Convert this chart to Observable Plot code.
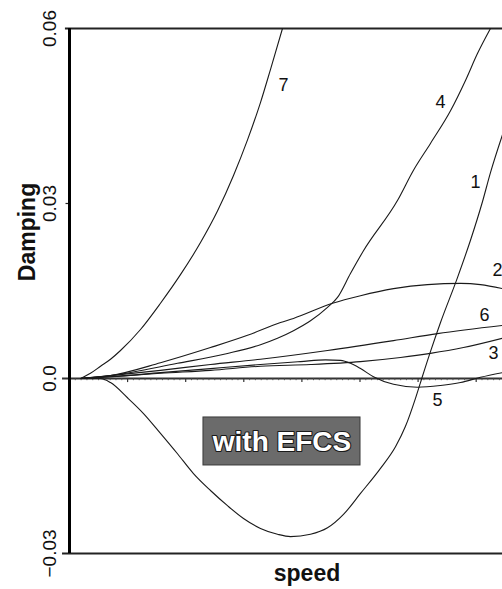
<!DOCTYPE html>
<html>
<head>
<meta charset="utf-8">
<script src="https://cdn.jsdelivr.net/npm/d3@7"></script>
<script src="https://cdn.jsdelivr.net/npm/@observablehq/plot@0.6"></script>
<style>
  html, body { margin: 0; padding: 0; background: #fff; }
  #chart svg { display: block; }
</style>
</head>
<body>
<div id="chart"></div>
<script>
// ---- Data (speed in arbitrary units, damping) ----
const curve1 = [[1.89,0],[5.34,0],[7.06,-0.0007],[9.98,-0.0033],[12.74,-0.0060],[15.66,-0.0094],[18.59,-0.0129],[21.34,-0.0163],[24.27,-0.0192],[27.19,-0.0218],[29.95,-0.0240],[32.87,-0.0257],[35.80,-0.0267],[38.04,-0.0271],[41.48,-0.0267],[44.41,-0.0256],[47.16,-0.0233],[50.09,-0.0197],[53.53,-0.0154],[56.11,-0.0117],[57.83,-0.0082],[59.55,-0.0034],[60.41,-0.0007],[62.13,0.0046],[63.86,0.0096],[66.78,0.0173],[69.02,0.0237],[71.08,0.0303],[72.46,0.0353],[74.53,0.0418]];
const curve2 = [[1.89,0],[7.06,0.0005],[15.66,0.0027],[24.27,0.0053],[30.64,0.0074],[36.32,0.0096],[38.55,0.0103],[45.27,0.0129],[50.09,0.0142],[55.77,0.0154],[61.62,0.0161],[67.30,0.0163],[70.74,0.0161],[74.53,0.0154]];
const curve3 = [[1.89,0],[7.06,0.0003],[15.66,0.0009],[24.27,0.0014],[32.87,0.0021],[41.48,0.0024],[50.09,0.0029],[56.97,0.0036],[62.13,0.0043],[67.81,0.0053],[74.53,0.0069]];
const curve4 = [[1.89,0],[7.06,0.0005],[18.59,0.0026],[27.19,0.0043],[32.87,0.0058],[35.80,0.0069],[38.55,0.0082],[41.48,0.0099],[44.41,0.0122],[46.13,0.0139],[48.36,0.0180],[50.60,0.0219],[56.45,0.0305],[59.21,0.0357],[62.13,0.0403],[65.58,0.0459],[68.16,0.0511],[70.22,0.0557],[72.46,0.0600]];
const curve5 = [[1.89,0],[7.06,0.0003],[15.66,0.0010],[24.27,0.0017],[32.87,0.0024],[39.76,0.0029],[44.06,0.0032],[46.64,0.0031],[48.36,0.0026],[50.09,0.0017],[52.32,0.0003],[55.77,-0.0010],[59.90,-0.0015],[63.86,-0.0012],[67.30,-0.0007],[70.74,0.0002],[74.53,0.0010]];
const curve6 = [[1.89,0],[7.06,0.0005],[15.66,0.0014],[24.27,0.0024],[32.87,0.0033],[44.41,0.0048],[55.77,0.0065],[63.34,0.0077],[74.53,0.0091]];
const curve7 = [[1.89,0],[3.61,0.0009],[5.34,0.0021],[7.06,0.0033],[8.78,0.0048],[12.22,0.0084],[15.66,0.0129],[19.10,0.0178],[22.55,0.0233],[25.47,0.0287],[28.23,0.0348],[30.64,0.0409],[32.87,0.0473],[34.60,0.0530],[36.66,0.0600]];

const curveNames = ["1","2","3","4","5","6","7"];
const curveData  = [curve1, curve2, curve3, curve4, curve5, curve6, curve7];

// curve label positions (data units)
const labelText = ["7","4","1","2","6","3","5"];
const labelX    = [36.83, 63.86, 69.88, 73.67, 71.43, 72.98, 63.34];
const labelY    = [0.0502, 0.0473, 0.0336, 0.0185, 0.0108, 0.0043, -0.0038];

// y axis ticks
const yTickValues = [-0.03, 0, 0.03, 0.06];
const yTickLabels = ["\u22120.03", "0.0", "0.03", "0.06"];

const xDomain = [0, 74.53];
const yDomain = [-0.03, 0.06];

// ---- Build tables ----
const lines = curveData.flatMap((c, i) => c.map(([x, y]) => ({name: curveNames[i], x, y})));
const labels = labelText.map((t, i) => ({t, x: labelX[i], y: labelY[i]}));
const yTicks = yTickValues.map((v, i) => ({v, label: yTickLabels[i]}));
const minorTicks = d3.range(1, 75, 1).filter(d => d % 10 !== 0);
const majorTicks = d3.range(10, 75, 10);

const font = "'Liberation Sans', Arial, Helvetica, sans-serif";

const chart = Plot.plot({
  width: 502,
  height: 589,
  marginLeft: 69,
  marginRight: 0,
  marginTop: 28,
  marginBottom: 36,
  style: {fontFamily: font, background: "#fff", overflow: "visible"},
  x: {domain: xDomain, axis: null},
  y: {domain: yDomain, axis: null},
  marks: [
    // annotation box
    Plot.rect([0], {x1: 23.06, x2: 50.09, y1: -0.00668, y2: -0.01491, fill: "#6b6b6b", stroke: "#3a3a3a", strokeWidth: 1}),
    Plot.text(["with EFCS"], {x: 36.57, y: -0.0108, text: d => d, fill: "#fff", stroke: "#1a1a1a", strokeWidth: 2.2, fontSize: 28, fontWeight: "bold", dy: 1}),
    // zero line with ticks
    Plot.ruleY([0], {x1: -1.2, x2: xDomain[1], stroke: "#333", strokeWidth: 1.8}),
    Plot.ruleX(minorTicks, {y1: 0, y2: -0.00038, stroke: "#444", strokeWidth: 0.8}),
    Plot.ruleX(majorTicks, {y1: 0, y2: -0.0007, stroke: "#333", strokeWidth: 1.2}),
    // frame
    Plot.ruleY([-0.03], {x1: -1.2, x2: xDomain[1], stroke: "#222", strokeWidth: 2}),
    Plot.ruleY([0.06], {x1: -0.7, x2: xDomain[1], stroke: "#222", strokeWidth: 2}),
    Plot.ruleY([0.03], {x1: -0.6, x2: 0, stroke: "#222", strokeWidth: 1.2}),
    Plot.ruleX([0], {y1: -0.03, y2: 0.06, stroke: "#000", strokeWidth: 3}),
    // curves
    Plot.line(lines, {x: "x", y: "y", z: "name", curve: "monotone-x", stroke: "#1a1a1a", strokeWidth: 1.1, clip: true}),
    // curve labels
    Plot.text(labels, {x: "x", y: "y", text: "t", fontSize: 18, fill: "#111"}),
    // y tick labels
    Plot.text(yTicks, {frameAnchor: "left", y: "v", text: "label", rotate: -90, textAnchor: "middle", lineAnchor: "middle", dx: -19.5, fontSize: 19, fill: "#111"}),
    // axis titles
    Plot.text(["Damping"], {frameAnchor: "left", text: d => d, rotate: -90, textAnchor: "middle", lineAnchor: "middle", dx: -42, dy: -59, fontSize: 23, fontWeight: "bold", fill: "#111"}),
    Plot.text(["speed"], {frameAnchor: "bottom", text: d => d, textAnchor: "middle", lineAnchor: "middle", dx: 21, dy: 20, fontSize: 23, fontWeight: "bold", fill: "#111", letterSpacing: "1px"})
  ]
});
document.getElementById("chart").appendChild(chart);
</script>
</body>
</html>
